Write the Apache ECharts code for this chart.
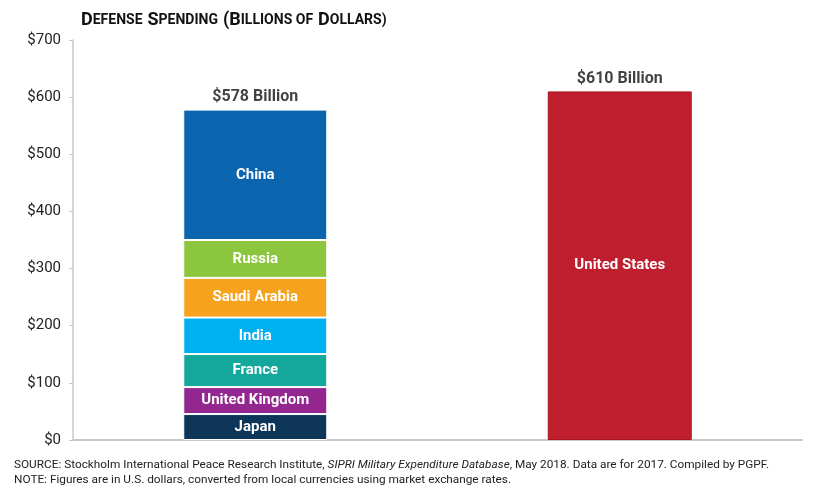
<!DOCTYPE html>
<html>
<head>
<meta charset="utf-8">
<script src="https://cdn.jsdelivr.net/npm/echarts@6/dist/echarts.min.js"></script>
<style>
  html, body { margin: 0; padding: 0; background: #fff; }
  #chart { width: 822px; height: 491px; }
</style>
</head>
<body>
<div id="chart"></div>
<script>
// bars: the 7 countries stacked together vs the US
const bars = ['Next seven', 'United States'];
const countries = ['Japan', 'United Kingdom', 'France', 'India', 'Saudi Arabia', 'Russia', 'China'];
const spending = [45.4, 47.2, 57.8, 63.9, 69.4, 66.3, 228.2];
const usSpending = 610;
const totals = [578, 610];
const yTicks = [0, 100, 200, 300, 400, 500, 600, 700];

const colors = ['#0d3558', '#93278f', '#14a89c', '#00b0ef', '#f6a21d', '#8cc63e', '#0b64ae'];
const usColor = '#be1e2d';

const chart = echarts.init(document.getElementById('chart'));

const labelFont = {
    show: true,
    position: 'inside',
    color: '#fff',
    fontFamily: 'Roboto',
    fontWeight: 'bold',
    fontSize: 15
};

const series = countries.map((name, i) => ({
    name: name,
    type: 'bar',
    stack: 'total',
    barWidth: 144,
    data: [spending[i], '-'],
    itemStyle: { color: colors[i], borderColor: '#fff', borderWidth: 1 },
    label: Object.assign({}, labelFont, { formatter: name })
}));

series.push({
    name: 'United States',
    type: 'bar',
    stack: 'total',
    barWidth: 144,
    data: ['-', usSpending],
    itemStyle: { color: usColor, borderColor: '#a8141f', borderWidth: 1 },
    label: Object.assign({}, labelFont, { formatter: 'United States' })
});

// totals above the bars
series.push({
    name: 'totals',
    type: 'scatter',
    symbol: 'rect',
    symbolSize: 1,
    itemStyle: { color: 'rgba(0,0,0,0)' },
    data: totals,
    label: {
        show: true,
        position: 'top',
        distance: 4,
        formatter: p => '$' + p.value + ' Billion',
        color: '#111',
        fontFamily: 'Roboto',
        fontWeight: 'bold',
        fontSize: 16
    },
    z: 5
});

const option = {
    animation: false,
    grid: { left: 73, right: 20, top: 40, bottom: 51 },
    title: {
        left: 76,
        top: 6,
        text: '{b|D}{s|EFENSE} {b|S}{s|PENDING} {b|(B}{s|ILLIONS OF} {b|D}{s|OLLARS)}',
        textStyle: {
            rich: {
                b: { fontFamily: 'Roboto', fontWeight: 'bold', fontSize: 18, color: '#111' },
                s: { fontFamily: 'Roboto', fontWeight: 'bold', fontSize: 14, color: '#111' }
            }
        }
    },
    xAxis: {
        type: 'category',
        data: bars,
        axisLine: { lineStyle: { color: '#c8c8c8', width: 2 } },
        axisTick: { show: false },
        axisLabel: { show: false }
    },
    yAxis: {
        type: 'value',
        min: yTicks[0],
        max: yTicks[yTicks.length - 1],
        interval: 100,
        axisLine: { show: true, lineStyle: { color: '#c8c8c8', width: 1.5 } },
        axisTick: { show: true, length: 4, lineStyle: { color: '#c8c8c8' } },
        splitLine: { show: false },
        axisLabel: {
            formatter: v => '$' + v,
            color: '#222',
            fontFamily: 'Roboto',
            fontSize: 15,
            margin: 12
        }
    },
    series: series,
    graphic: [
        {
            type: 'text',
            left: 14,
            top: 459,
            style: {
                text: '{n|SOURCE: Stockholm International Peace Research Institute, }{i|SIPRI Military Expenditure Database}{n|, May 2018. Data are for 2017. Compiled by PGPF.}',
                rich: {
                    n: { fontFamily: 'Roboto', fontSize: 11.8, fill: '#222' },
                    i: { fontFamily: 'Roboto', fontSize: 11.8, fontStyle: 'italic', fill: '#222' }
                }
            }
        },
        {
            type: 'text',
            left: 14,
            top: 474,
            style: {
                text: 'NOTE: Figures are in U.S. dollars, converted from local currencies using market exchange rates.',
                fontFamily: 'Roboto',
                fontSize: 11.8,
                fill: '#222'
            }
        }
    ]
};

chart.setOption(option);
</script>
</body>
</html>
